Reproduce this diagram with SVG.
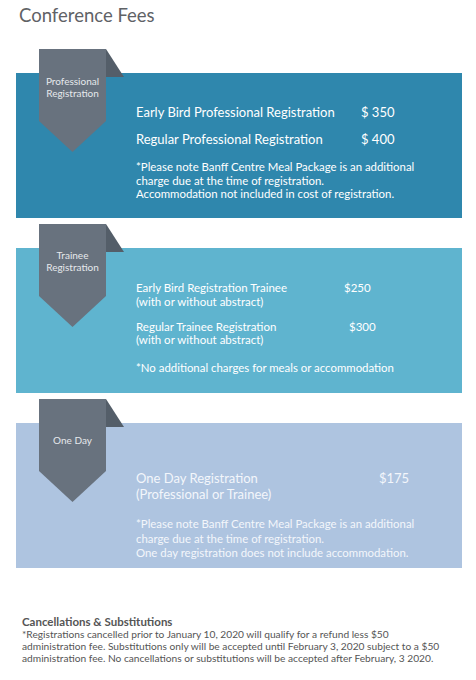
<svg xmlns="http://www.w3.org/2000/svg" width="476" height="680" viewBox="0 0 476 680">
<style>
text{font-family:Lato,"Open Sans","Liberation Sans",sans-serif}
.title{font-size:18.5px;fill:#5f6266}
.rib{fill:#68727e}
.fold{fill:#545e69}
.lbl{font-size:10px;fill:#e6e9ec;text-anchor:middle}
.big{font-size:13px;fill:#fff}
.mid{font-size:11.5px;fill:#fff}
.note{font-size:11.4px;fill:#fff}
.p3{fill:#f3f6fb}
.fh{font-size:11.5px;font-weight:bold;fill:#555}
.ft{font-size:10.2px;fill:#555}
</style>
<rect width="476" height="680" fill="#fff"/>
<text class="title" x="19" y="22">Conference Fees</text>

<g id="professional">
<rect x="16" y="73" width="446" height="145" fill="#2f87ad"/>
<polygon class="fold" points="106,49 124,77 106,77"/>
<polygon class="rib" points="39,49 106,49 106,121 72.5,152 39,121"/>
<text class="lbl" x="72.5" y="85">Professional</text>
<text class="lbl" x="72.5" y="97">Registration</text>
<text class="big" x="136" y="117">Early Bird Professional Registration</text>
<text class="big" x="361" y="117">$ 350</text>
<text class="big" x="136" y="144">Regular Professional Registration</text>
<text class="big" x="361" y="144">$ 400</text>
<text class="note" x="136" y="171">*Please note Banff Centre Meal Package is an additional</text>
<text class="note" x="136" y="184.5">charge due at the time of registration.</text>
<text class="note" x="136" y="198">Accommodation not included in cost of registration.</text>
</g>

<g id="trainee">
<rect x="16" y="248" width="446" height="145" fill="#5fb4cf"/>
<polygon class="fold" points="106,224 124,252 106,252"/>
<polygon class="rib" points="39,224 106,224 106,296 72.5,327 39,296"/>
<text class="lbl" x="72.5" y="259">Trainee</text>
<text class="lbl" x="72.5" y="271">Registration</text>
<text class="mid" x="136" y="292">Early Bird Registration Trainee</text>
<text class="mid" x="344" y="292">$250</text>
<text class="mid" x="136" y="306">(with or without abstract)</text>
<text class="mid" x="136" y="331">Regular Trainee Registration</text>
<text class="mid" x="349" y="331">$300</text>
<text class="mid" x="136" y="344">(with or without abstract)</text>
<text class="note" x="136" y="372">*No additional charges for meals or accommodation</text>
</g>

<g id="oneday">
<rect x="16" y="423" width="446" height="145" fill="#aec4e0"/>
<polygon class="fold" points="106,399 124,427 106,427"/>
<polygon class="rib" points="39,399 106,399 106,471 72.5,502 39,471"/>
<text class="lbl" x="72.5" y="444">One Day</text>
<text class="big p3" x="136" y="483">One Day Registration</text>
<text class="big p3" x="379" y="483">$175</text>
<text class="big p3" x="136" y="499">(Professional or Trainee)</text>
<text class="note p3" x="136" y="528">*Please note Banff Centre Meal Package is an additional</text>
<text class="note p3" x="136" y="542.5">charge due at the time of registration.</text>
<text class="note p3" x="136" y="557">One day registration does not include accommodation.</text>
</g>

<g id="footer">
<text class="fh" x="22" y="626">Cancellations &amp; Substitutions</text>
<text class="ft" x="22" y="638">*Registrations cancelled prior to January 10, 2020 will qualify for a refund less $50</text>
<text class="ft" x="22" y="650">administration fee. Substitutions only will be accepted until February 3, 2020 subject to a $50</text>
<text class="ft" x="22" y="662">administration fee. No cancellations or substitutions will be accepted after February, 3 2020.</text>
</g>
</svg>
